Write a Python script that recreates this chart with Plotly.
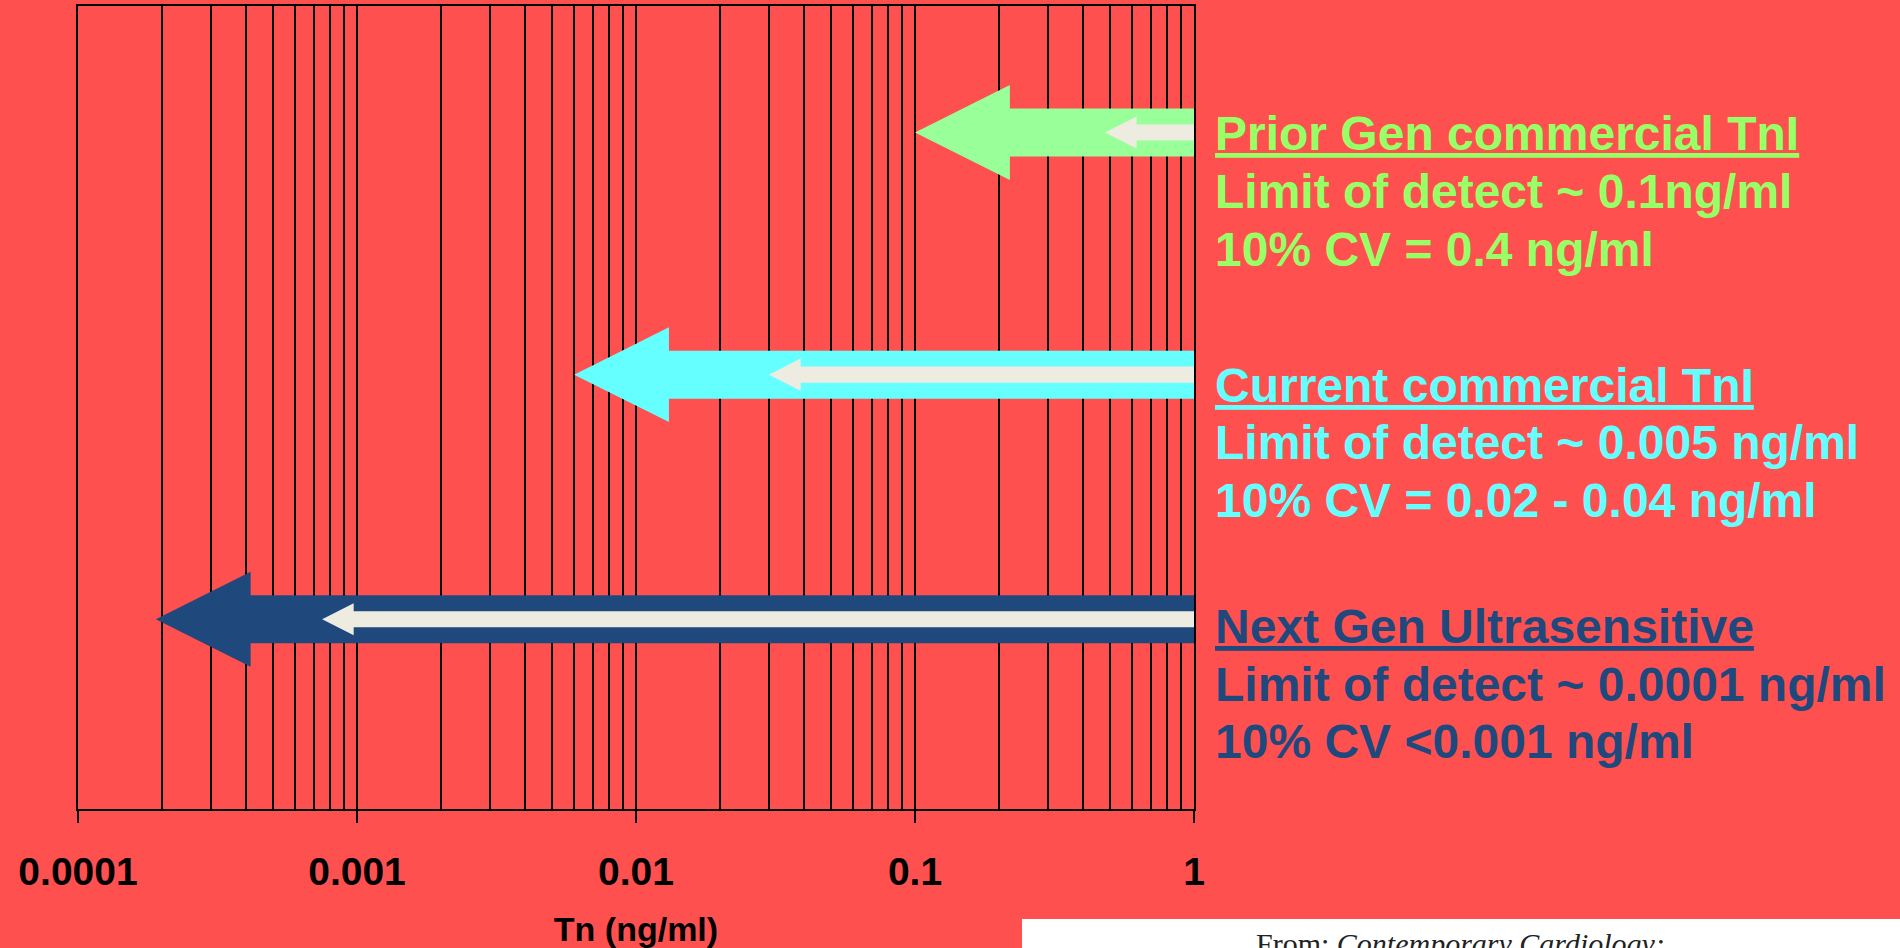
import plotly.graph_objects as go

# ---- data -------------------------------------------------------------
decades = [0.0001, 0.001, 0.01, 0.1, 1]
decade_labels = ["0.0001", "0.001", "0.01", "0.1", "1"]

assays = ["Prior Gen commercial TnI", "Current commercial TnI", "Next Gen Ultrasensitive"]
detect_limit_tip = [0.1, 0.006, 0.00019]      # outer arrow tip (limit of detection)
cv10_tip = [0.48, 0.03, 0.00075]              # inner arrow tip (10% CV level)
row_y = [2.78, 1.785, 0.78]

info_lines = [
    ["Limit of detect ~ 0.1ng/ml", "10% CV = 0.4 ng/ml"],
    ["Limit of detect ~ 0.005 ng/ml", "10% CV = 0.02 - 0.04 ng/ml"],
    ["Limit of detect ~ 0.0001 ng/ml", "10% CV <0.001 ng/ml"],
]

# ---- styling ----------------------------------------------------------
BG = "#FF5050"
arrow_colors = ["#99FF99", "#66FFFF", "#1F497D"]
text_colors = ["#99FF66", "#66FFFF", "#1F497D"]
INNER = "#EEECE1"
SANS = "Liberation Sans, Arial, sans-serif"

W, H = 1900, 948
L, R, T, B = 78, 706, 6, 139
PW, PH = W - L - R, H - T - B
Y_MAX = 3.3

# arrow geometry (y in axis units, head length in decades)
OUT_HEAD_H, OUT_SHAFT_H, OUT_HEAD_LEN = 0.195, 0.0986, 0.34
IN_HEAD_H, IN_SHAFT_H, IN_HEAD_LEN = 0.066, 0.033, 0.113


def px_x(p):
    return (p - L) / PW


def px_y(p):
    return (H - B - p) / PH


def arrow_polygon(tip, y0, head_h, shaft_h, head_len, right=1.0):
    back = tip * 10 ** head_len
    xs = [tip, back, back, right, right, back, back, tip]
    ys = [y0, y0 + head_h, y0 + shaft_h, y0 + shaft_h,
          y0 - shaft_h, y0 - shaft_h, y0 - head_h, y0]
    return xs, ys


fig = go.Figure()

for i in range(len(assays)):
    xs, ys = arrow_polygon(detect_limit_tip[i], row_y[i],
                           OUT_HEAD_H, OUT_SHAFT_H, OUT_HEAD_LEN)
    fig.add_trace(go.Scatter(x=xs, y=ys, mode="lines", fill="toself",
                             fillcolor=arrow_colors[i], line=dict(width=0),
                             hoverinfo="skip", showlegend=False))
    xs, ys = arrow_polygon(cv10_tip[i], row_y[i],
                           IN_HEAD_H, IN_SHAFT_H, IN_HEAD_LEN)
    fig.add_trace(go.Scatter(x=xs, y=ys, mode="lines", fill="toself",
                             fillcolor=INNER, line=dict(width=0),
                             hoverinfo="skip", showlegend=False))

minor_vals = [d * k for d in decades[:-1] for k in range(2, 10)]

fig.update_xaxes(
    type="log", range=[-4, 0],
    tickvals=decades, ticktext=decade_labels,
    tickfont=dict(family=SANS, size=39, color="black", weight="bold"),
    ticks="outside", ticklen=12, tickwidth=1.5, tickcolor="black",
    ticklabelstandoff=15,
    showgrid=True, gridcolor="black", gridwidth=1.5,
    minor=dict(tickvals=minor_vals, showgrid=True, gridcolor="black",
               gridwidth=1.5, ticks=""),
    showline=True, linecolor="black", linewidth=2, mirror=True,
    layer="below traces", zeroline=False,
    title=dict(text="Tn (ng/ml)", standoff=35,
               font=dict(family=SANS, size=34, color="black", weight="bold")),
)
fig.update_yaxes(
    range=[0, Y_MAX], showgrid=False, zeroline=False, showticklabels=False,
    ticks="", showline=True, linecolor="black", linewidth=2, mirror=True,
    layer="below traces",
)

# assay descriptions on the right
title_centers = [134, 385, 626.5]
line_gap = 57.5
for i, name in enumerate(assays):
    lines = ["<u>" + name + "</u>"] + info_lines[i]
    for j, txt in enumerate(lines):
        fig.add_annotation(
            xref="paper", yref="paper",
            x=px_x(1213), y=px_y(title_centers[i] + j * line_gap),
            xanchor="left", yanchor="middle", showarrow=False,
            text=txt,
            font=dict(family=SANS, size=48, color=text_colors[i], weight="bold"),
        )

# source caption box
fig.add_shape(type="rect", xref="paper", yref="paper",
              x0=px_x(1022), x1=px_x(1910), y0=px_y(960), y1=px_y(919),
              fillcolor="white", line=dict(width=0), layer="above")
fig.add_annotation(
    xref="paper", yref="paper", x=px_x(1460), y=px_y(925),
    xanchor="center", yanchor="top", showarrow=False,
    text="From: <i>Contemporary Cardiology:</i>",
    font=dict(family="Liberation Serif, Times New Roman, serif", size=30,
              color="#222222"),
)

fig.update_layout(
    width=W, height=H,
    margin=dict(l=L, r=R, t=T, b=B, autoexpand=False),
    paper_bgcolor=BG, plot_bgcolor=BG,
    showlegend=False,
)

fig.write_html("out.html")
